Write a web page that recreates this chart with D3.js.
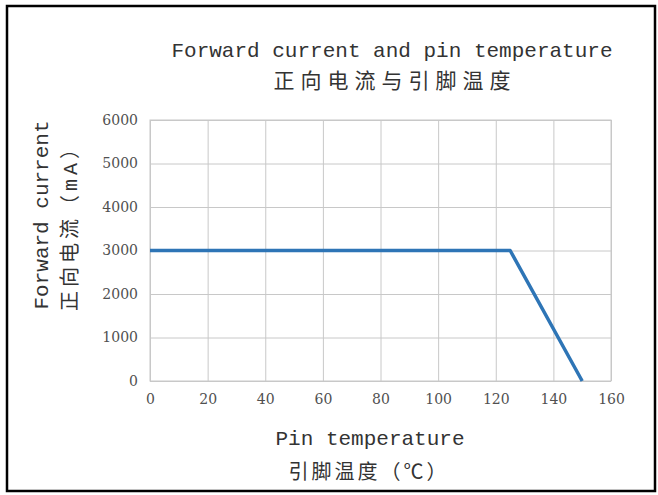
<!DOCTYPE html>
<html>
<head>
<meta charset="utf-8">
<script src="https://cdn.jsdelivr.net/npm/d3@7"></script>
<style>
	body { margin: 0; background: #fff; }
	svg { display: block; }
</style>
</head>
<body>
<div class="svg-container"></div>
<script>
(function () {

	"use strict";

	// data
	var temperatures = [0, 125, 150];
	var currents = [3000, 3000, 0];
	var x_ticks = [0, 20, 40, 60, 80, 100, 120, 140, 160];
	var y_ticks = [0, 1000, 2000, 3000, 4000, 5000, 6000];

	var title_lines = ["Forward current and pin temperature", "正向电流与引脚温度"];
	var x_title_lines = ["Pin temperature", "引脚温度（℃）"];
	var y_title_lines = ["Forward current", "正向电流（mA）"];

	var mono = "'Liberation Mono', 'DejaVu Sans Mono', 'Noto Sans CJK SC', monospace",
		serif = "'DejaVu Serif', 'Liberation Serif', serif";

	var width = 658, height = 495,
		plot = { "left": 150, "top": 120, "right": 611, "bottom": 381 };

	var svg = d3.select(".svg-container").append("svg")
		.attr("width", width)
		.attr("height", height);

	// outer frame
	svg.append("rect")
		.attr("x", 7).attr("y", 6)
		.attr("width", 648).attr("height", 485)
		.attr("fill", "#fff")
		.attr("stroke", "#000")
		.attr("stroke-width", 2.5);

	var x = d3.scaleLinear().domain([0, 160]).range([plot.left, plot.right]),
		y = d3.scaleLinear().domain([0, 6000]).range([plot.bottom, plot.top]);

	// grid
	svg.append("g")
		.attr("transform", "translate(0," + plot.bottom + ")")
		.call(d3.axisBottom(x).tickValues(x_ticks).tickSize(-(plot.bottom - plot.top)).tickFormat(""))
		.call(function (g) { g.select(".domain").remove(); })
		.selectAll("line").attr("stroke", "#c8c8c8");

	svg.append("g")
		.attr("transform", "translate(" + plot.left + ",0)")
		.call(d3.axisLeft(y).tickValues(y_ticks).tickSize(-(plot.right - plot.left)).tickFormat(""))
		.call(function (g) { g.select(".domain").remove(); })
		.selectAll("line").attr("stroke", "#c8c8c8");

	// tick labels
	svg.append("g")
		.attr("transform", "translate(0," + plot.bottom + ")")
		.call(d3.axisBottom(x).tickValues(x_ticks).tickSize(0).tickPadding(13).tickFormat(d3.format("d")))
		.call(function (g) { g.select(".domain").remove(); })
		.selectAll("text")
		.attr("font-family", serif).attr("font-size", 14).attr("fill", "#505050");

	svg.append("g")
		.attr("transform", "translate(" + plot.left + ",0)")
		.call(d3.axisLeft(y).tickValues(y_ticks).tickSize(0).tickPadding(12).tickFormat(d3.format("d")))
		.call(function (g) { g.select(".domain").remove(); })
		.selectAll("text")
		.attr("font-family", serif).attr("font-size", 14).attr("fill", "#505050");

	// the series
	var line = d3.line()
		.x(function (d, i) { return x(temperatures[i]); })
		.y(function (d) { return y(d); });

	svg.append("path")
		.datum(currents)
		.attr("fill", "none")
		.attr("stroke", "#2e75b6")
		.attr("stroke-width", 3.5)
		.attr("stroke-linejoin", "round")
		.attr("d", line);

	// titles
	svg.append("text")
		.attr("x", 392).attr("y", 57)
		.attr("text-anchor", "middle")
		.attr("font-family", mono).attr("font-size", 21).attr("fill", "#333")
		.text(title_lines[0]);
	svg.append("text")
		.attr("x", 395).attr("y", 88)
		.attr("text-anchor", "middle")
		.attr("font-family", mono).attr("font-size", 21).attr("fill", "#333")
		.attr("letter-spacing", 6)
		.text(title_lines[1]);

	svg.append("text")
		.attr("x", 370).attr("y", 445)
		.attr("text-anchor", "middle")
		.attr("font-family", mono).attr("font-size", 21).attr("fill", "#333")
		.text(x_title_lines[0]);
	svg.append("text")
		.attr("x", 369).attr("y", 479)
		.attr("text-anchor", "middle")
		.attr("font-family", mono).attr("font-size", 20).attr("fill", "#333")
		.attr("letter-spacing", 3)
		.text(x_title_lines[1]);

	svg.append("text")
		.attr("transform", "translate(48,215) rotate(-90)")
		.attr("text-anchor", "middle")
		.attr("font-family", mono).attr("font-size", 21).attr("fill", "#333")
		.text(y_title_lines[0]);
	svg.append("text")
		.attr("transform", "translate(77,223) rotate(-90)")
		.attr("text-anchor", "middle")
		.attr("font-family", mono).attr("font-size", 20).attr("fill", "#333")
		.attr("letter-spacing", 4)
		.text(y_title_lines[1]);

	// plot frame
	svg.append("rect")
		.attr("x", plot.left).attr("y", plot.top)
		.attr("width", plot.right - plot.left).attr("height", plot.bottom - plot.top)
		.attr("fill", "none")
		.attr("stroke", "#c8c8c8");

	svg.select("path").raise();

})();
</script>
</body>
</html>
